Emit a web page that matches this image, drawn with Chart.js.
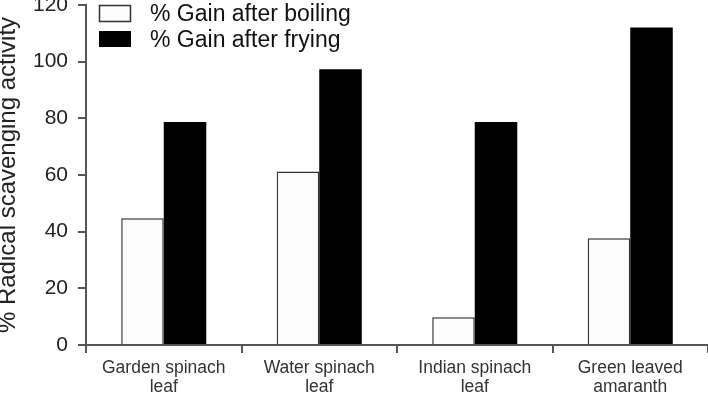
<!DOCTYPE html>
<html>
<head>
<meta charset="utf-8">
<script src="https://cdn.jsdelivr.net/npm/chart.js@4.4.1/dist/chart.umd.min.js"></script>
<style>
  html, body { margin: 0; padding: 0; background: #fff; }
  #chart { display: block; }
</style>
</head>
<body>
<canvas id="chart" width="708" height="396"></canvas>
<script>
// ---- data ----
const categories = [
    ['Garden spinach', 'leaf'],
    ['Water spinach', 'leaf'],
    ['Indian spinach', 'leaf'],
    ['Green leaved', 'amaranth']
];
const boilingGain = [44.7, 61.2, 9.8, 37.7];
const fryingGain = [78.7, 97.3, 78.7, 112.1];
const yTicks = [0, 20, 40, 60, 80, 100, 120];

const FONT = '"Liberation Sans", Arial, Helvetica, sans-serif';
const AXIS = '#555';

// legend drawn inside the plot, top left
const insideLegend = {
    id: 'insideLegend',
    afterDraw(chart) {
        const ctx = chart.ctx;
        const rows = [{ y: 5, h: 17 }, { y: 31, h: 16 }];
        ctx.save();
        ctx.font = '23px ' + FONT;
        ctx.textBaseline = 'alphabetic';
        ctx.fillStyle = '#111';
        chart.data.datasets.forEach((ds, i) => {
            const r = rows[i];
            ctx.fillStyle = ds.backgroundColor;
            ctx.fillRect(99, r.y, 32, r.h);
            if (ds.borderWidth) {
                ctx.strokeStyle = ds.borderColor;
                ctx.lineWidth = 1.5;
                ctx.strokeRect(99.5, r.y + 0.5, 31, r.h - 1);
            }
            ctx.fillStyle = '#111';
            ctx.fillText(ds.label, 150, r.y + 16);
        });
        ctx.restore();
    }
};

new Chart(document.getElementById('chart'), {
    type: 'bar',
    data: {
        labels: categories,
        datasets: [
            {
                label: '% Gain after boiling',
                data: boilingGain,
                backgroundColor: '#fcfcfc',
                borderColor: '#333',
                borderWidth: 1.5,
                borderSkipped: 'bottom'
            },
            {
                label: '% Gain after frying',
                data: fryingGain,
                backgroundColor: '#000',
                borderColor: '#000',
                borderWidth: 0
            }
        ]
    },
    options: {
        responsive: false,
        animation: false,
        devicePixelRatio: 1,
        layout: { padding: { top: 5, left: 0, right: 0, bottom: 0 } },
        categoryPercentage: 0.547,
        barPercentage: 1.0,
        plugins: {
            legend: { display: false },
            tooltip: { enabled: false }
        },
        scales: {
            x: {
                grid: { display: true, drawOnChartArea: false, drawTicks: true, tickLength: 8, color: AXIS, lineWidth: 2, offset: true },
                border: { display: true, color: AXIS, width: 2 },
                ticks: { color: '#333', padding: 6, maxRotation: 0, autoSkip: false, font: { family: FONT, size: 17.5, lineHeight: 1.07 } },
                afterFit(s) { s.height = 51; s.paddingLeft = 0; s.paddingRight = 0; }
            },
            y: {
                min: 0,
                max: 120,
                afterBuildTicks(s) { s.ticks = yTicks.map(v => ({ value: v })); },
                grid: { display: true, drawOnChartArea: false, drawTicks: true, tickLength: 8, color: AXIS, lineWidth: 2 },
                border: { display: true, color: AXIS, width: 2 },
                ticks: { color: '#222', padding: 10, font: { family: FONT, size: 21 } },
                title: {
                    display: true,
                    text: '% Radical scavenging activity',
                    color: '#222',
                    padding: { top: 0, bottom: 0 },
                    font: { family: FONT, size: 24, lineHeight: 0.72 }
                },
                afterFit(s) { s.width = 86; s.paddingTop = 0; s.paddingBottom = 0; }
            }
        }
    },
    plugins: [insideLegend]
});
</script>
</body>
</html>
